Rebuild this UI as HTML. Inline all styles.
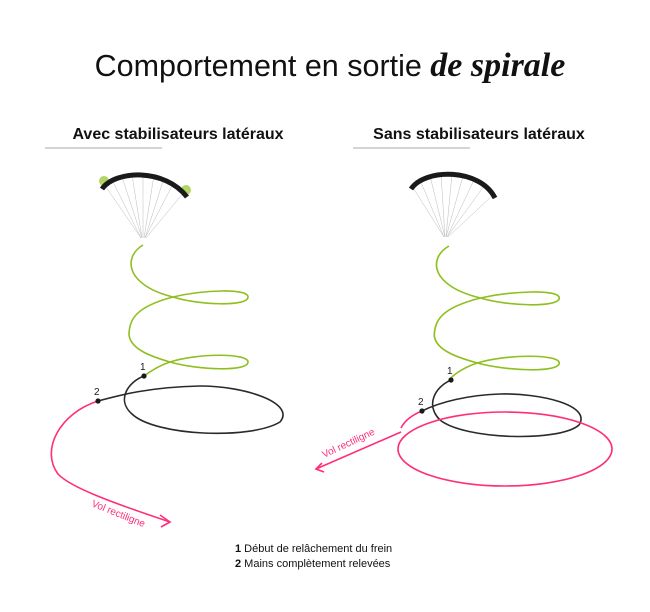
<!DOCTYPE html>
<html><head><meta charset="utf-8"><style>
body{margin:0;background:#fff;}
svg{display:block;}
</style></head><body>
<svg width="650" height="612" viewBox="0 0 650 612" xmlns="http://www.w3.org/2000/svg">
<text x="330" y="76" text-anchor="middle" font-family="Liberation Sans, sans-serif" font-size="30.5" fill="#111">Comportement en sortie <tspan font-family="Liberation Serif, serif" font-style="italic" font-weight="bold" font-size="34">de spirale</tspan></text>
<text x="178" y="139" text-anchor="middle" font-family="Liberation Sans, sans-serif" font-weight="bold" font-size="16" fill="#111">Avec stabilisateurs latéraux</text>
<text x="479" y="139" text-anchor="middle" font-family="Liberation Sans, sans-serif" font-weight="bold" font-size="16" fill="#111">Sans stabilisateurs latéraux</text>
<line x1="45" y1="148" x2="162" y2="148" stroke="#aaa" stroke-width="1"/>
<line x1="353" y1="148" x2="470" y2="148" stroke="#aaa" stroke-width="1"/>

<g stroke="#bbb" stroke-width="0.5" fill="none">
<path d="M104,184 L141,238 M112,180 L141,238 M122,177 L142,238 M132,175 L142,238 M143,174 L143,238 M154,175 L144,238 M164,178 L145,238 M174,182 L145,238 M184,192 L146,238"/>
</g>
<circle cx="104" cy="181" r="5" fill="#9ccc3d" opacity="0.8"/>
<circle cx="186" cy="190" r="5" fill="#9ccc3d" opacity="0.8"/>
<path d="M102,189 C115,170 165,168 187,197" stroke="#1a1a1a" stroke-width="5" fill="none"/>

<g stroke="#bbb" stroke-width="0.5" fill="none">
<path d="M412,186 L444,237 M420,180 L444,237 M430,176 L445,237 M441,174 L445,237 M452,174 L446,237 M463,176 L446,237 M474,180 L447,237 M484,186 L447,237 M493,195 L448,237"/>
</g>
<path d="M411,189 C425,168 480,168 495,198" stroke="#1a1a1a" stroke-width="5" fill="none"/>

<g fill="none" stroke="#8fbf1f" stroke-width="1.6">
<path transform="translate(143,245)" d="M0,0 C-20,12 -18,40 30,52 C55,60 105,62 105,52 C105,43 60,45 30,52 C-8,62 -14,75 -14,90 C-12,105 10,112 27,117 C55,125 105,127 105,117 C105,108 55,108 27,117 C15,121 5,128 1,131"/>
<path transform="translate(449,246) scale(1.05,1)" d="M0,0 C-20,12 -18,40 30,52 C55,60 105,62 105,52 C105,43 60,45 30,52 C-8,62 -14,75 -14,90 C-12,105 10,112 27,117 C55,125 105,127 105,117 C105,108 55,108 27,117 C15,121 5,128 1,133"/>
</g>

<g fill="none" stroke="#2a2a2a" stroke-width="1.6">
<path d="M144,376 C128,382 116,400 132,414 C155,436 250,440 280,422 C296,403 245,386 200,386 C150,387 120,395 98,401"/>
<path d="M451,380 C435,387 425,405 440,420 C465,440 560,442 579,425 C592,405 540,393 500,394 C468,395 440,402 422,411"/>
</g>

<g fill="none" stroke="#ff2d7a" stroke-width="1.6">
<path d="M98,401 C60,413 40,450 58,474 C70,487 110,502 170,522"/>
<path d="M160,515 L170,522 L161,527"/>
<ellipse cx="505" cy="449" rx="107" ry="37"/>
<path d="M422,411 C412,415 405,420 401,428"/>
<path d="M401,432 L316,469"/>
<path d="M322,463 L316,469 L324,472"/>
</g>
<text transform="translate(91,506) rotate(22)" font-family="Liberation Sans, sans-serif" font-size="10" fill="#ff2d7a">Vol rectiligne</text>
<text transform="translate(324,458) rotate(-25)" font-family="Liberation Sans, sans-serif" font-size="10" fill="#ff2d7a">Vol rectiligne</text>

<g fill="#1a1a1a" font-family="Liberation Sans, sans-serif" font-size="10">
<circle cx="144" cy="376" r="2.6"/><text x="140" y="370">1</text>
<circle cx="98" cy="401" r="2.6"/><text x="94" y="395">2</text>
<circle cx="451" cy="380" r="2.6"/><text x="447" y="374">1</text>
<circle cx="422" cy="411" r="2.6"/><text x="418" y="405">2</text>
</g>

<g font-family="Liberation Sans, sans-serif" font-size="11" fill="#111">
<text x="235" y="552"><tspan font-weight="bold">1</tspan> Début de relâchement du frein</text>
<text x="235" y="567"><tspan font-weight="bold">2</tspan> Mains complètement relevées</text>
</g>
</svg>
</body></html>
